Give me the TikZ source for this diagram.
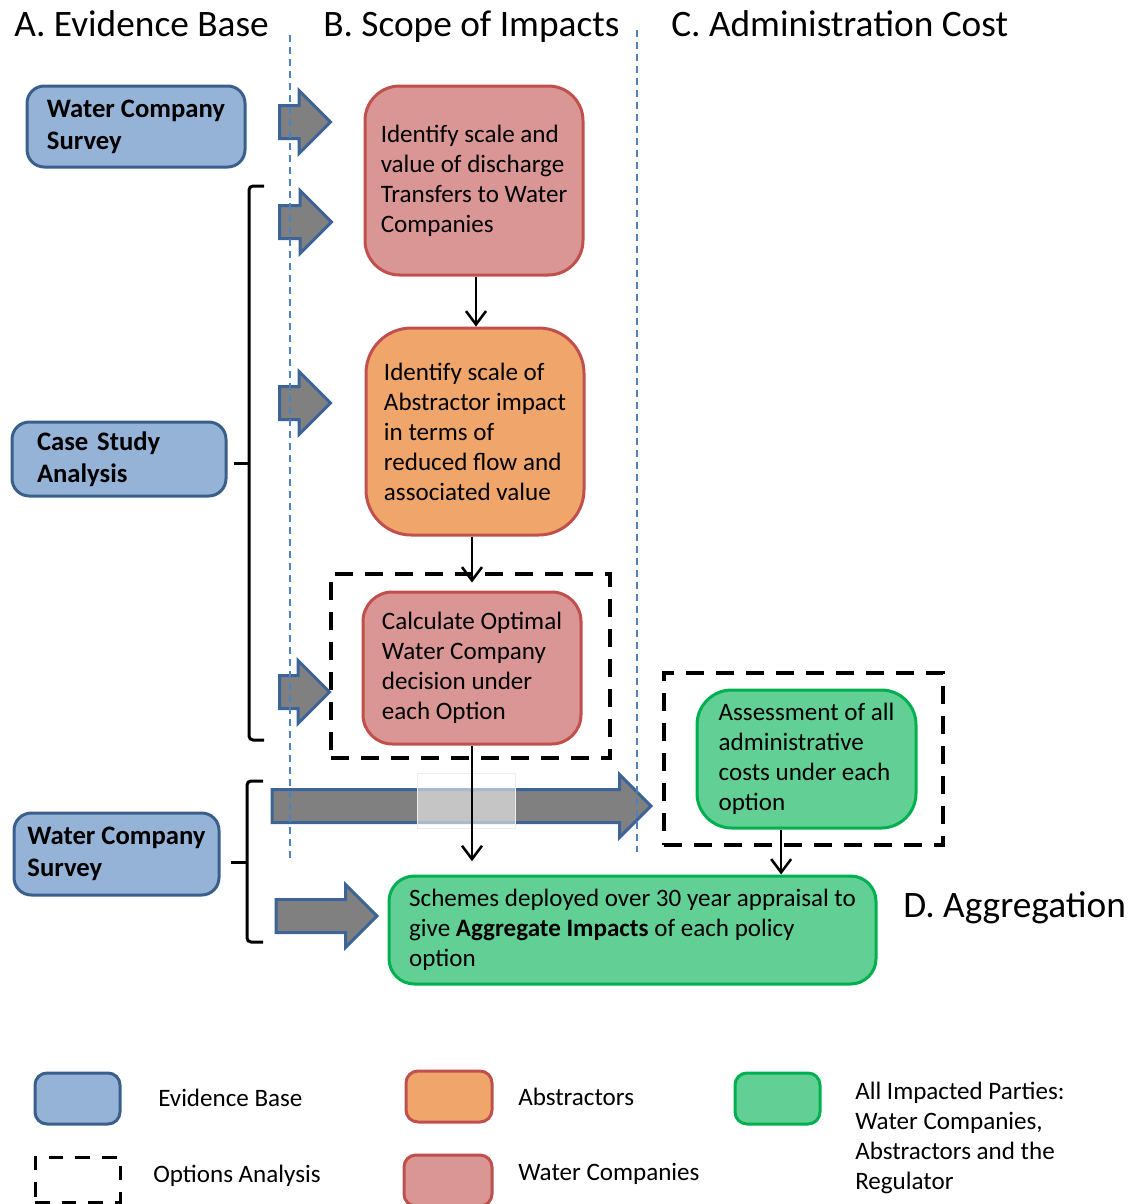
\documentclass[tikz,border=0pt]{standalone}
\usepackage{fontspec}
\setmainfont{Carlito}
\usepackage{tikz}
\usetikzlibrary{shapes.arrows, arrows.meta, positioning}

\definecolor{evfill}{HTML}{95B3D7}
\definecolor{evline}{HTML}{3A5F8B}
\definecolor{wcfill}{HTML}{D99694}
\definecolor{wcline}{HTML}{C0504D}
\definecolor{abfill}{HTML}{F0A66A}
\definecolor{allfill}{HTML}{62CF95}
\definecolor{allline}{HTML}{00B050}
\definecolor{arrline}{HTML}{3C6496}
\definecolor{sepline}{HTML}{4F81BD}

\begin{document}
\begin{tikzpicture}[x=0.75pt, y=-0.75pt,
	every node/.style={font=\fontsize{18.8}{22.5}\selectfont, inner sep=0pt},
	title/.style={anchor=base west, font=\fontsize{28}{34}\selectfont},
	box/.style={draw, line width=2.25pt, align=left},
	evbox/.style={box, draw=evline, fill=evfill, rounded corners=13pt, font=\fontsize{20}{24}\selectfont\bfseries},
	wcbox/.style={box, draw=wcline, fill=wcfill},
	abbox/.style={box, draw=wcline, fill=abfill},
	allbox/.style={box, draw=allline, fill=allfill},
	optbox/.style={draw, line width=3pt, dash pattern=on 13.5pt off 9pt},
	blockarr/.style={single arrow, draw=arrline, fill=gray, line width=2.25pt, inner xsep=0pt, inner ysep=11.25pt, single arrow head extend=11.25pt, anchor=tail, outer sep=0pt},
	flow/.style={line width=1.9pt, -{Straight Barb[length=10pt, width=15pt]}},
	sep/.style={sepline, line width=1.5pt, dash pattern=on 5pt off 4pt},
	brace/.style={line width=2.25pt, rounded corners=3pt},
	legtext/.style={anchor=west, align=left}
]
	\useasboundingbox (0,0) rectangle (1135,1204);
	\clip (0,0) rectangle (1135,1204);

	\node[title] (tA) at (14,36) {A. Evidence Base};
	\node[title] (tB) at (323,36) {B. Scope of Impacts};
	\node[title] (tC) at (671,36) {C. Administration Cost};
	\node[title] (tD) at (903,917) {D. Aggregation};

	% evidence base
	\node[evbox, minimum width=163.5pt, minimum height=60.75pt] (wcs1) at (136,126.5) {Water Company\\Survey};
	\node[evbox, text width=123pt, inner xsep=18.75pt, minimum height=55.5pt] (csa) at (119,459) {Case Study\\Analysis};
	\node[evbox, minimum width=153.75pt, minimum height=61.5pt] (wcs2) at (116.5,854) {Water Company\\Survey};

	\draw[brace] (264,186) -- (249,186) -- (249,740) -- (264,740);
	\draw[brace] (249,463) -- (234,463);
	\draw[brace] (263,781) -- (247,781) -- (247,942) -- (263,942);
	\draw[brace] (247,862) -- (231,862);

	% scope of impacts
	\node[optbox, minimum width=209.25pt, minimum height=138pt] (opt1) at (470.5,666) {};
	\node[wcbox, rounded corners=26pt, minimum width=163.5pt, minimum height=141.75pt] (wc1) at (474,180.5) {Identify scale and\\value of discharge\\Transfers to Water\\Companies};
	\node[abbox, rounded corners=34pt, minimum width=163.5pt, minimum height=155.25pt] (abs) at (475,431.5) {Identify scale of\\Abstractor impact\\in terms of\\reduced flow and\\associated value};
	\node[wcbox, rounded corners=22pt, minimum width=163.5pt, minimum height=114pt] (wc2) at (472,668) {Calculate Optimal\\Water Company\\decision under\\each Option};

	% administration cost
	\node[optbox, minimum width=209.25pt, minimum height=129pt] (opt2) at (803.5,759) {};
	\node[allbox, rounded corners=26pt, minimum width=164.25pt, minimum height=103.5pt] (adm) at (806.5,759) {Assessment of all\\administrative\\costs under each\\option};

	% aggregation
	\node[allbox, rounded corners=19pt, minimum width=365.25pt, minimum height=81pt] (agg) at (632.5,930) {Schemes deployed over 30 year appraisal to\\give \textbf{Aggregate Impacts} of each policy\\option};

	\node[blockarr, minimum height=38.25pt] (ar1) at (279.5,122) {};
	\node[blockarr, minimum height=39pt] (ar2) at (279.5,222) {};
	\node[blockarr, minimum height=38.25pt] (ar3) at (279.5,403) {};
	\node[blockarr, minimum height=37.5pt] (ar4) at (279.5,692) {};
	\node[blockarr, minimum height=284.25pt] (ar5) at (272,806) {};
	\node[blockarr, minimum height=75.75pt] (ar6) at (276,916) {};
	\draw[gray!15, fill=white, fill opacity=0.55] (417,773) rectangle (515,828);

	\draw[sep] (290,35) -- (290,858);
	\draw[sep] (637,30) -- (637,852);

	\draw[flow] ([xshift=1.5pt]wc1.south) -- ([xshift=1.5pt]wc1.south |- abs.north);
	\draw[flow, shorten >=6pt] (abs.south -| wc2.north) -- (wc2.north);
	\draw[flow, shorten >=10pt] (wc2.south) -- (wc2.south |- agg.north);
	\draw[flow] ([xshift=-19pt]adm.south) -- ([xshift=-19pt]adm.south |- agg.north);

	% legend
	\node[evbox, rounded corners=9pt, minimum width=63.75pt, minimum height=38.25pt] (lgev) at (77.5,1098.5) {};
	\node[legtext] (lgevt) at (158,1098) {Evidence Base};
	\node[optbox, line width=2.25pt, dash pattern=on 11pt off 9pt, minimum width=63.75pt, minimum height=33.75pt] (lgopt) at (77.5,1179.5) {};
	\node[legtext] (lgoptt) at (153,1176) {Options Analysis};
	\node[abbox, rounded corners=9pt, minimum width=64.5pt, minimum height=38.25pt] (lgab) at (449,1096.5) {};
	\node[legtext] (lgabt) at (518,1097) {Abstractors};
	\node[wcbox, rounded corners=9pt, minimum width=66pt, minimum height=38.25pt] (lgwc) at (448,1180.5) {};
	\node[legtext] (lgwct) at (518,1174) {Water Companies};
	\node[allbox, rounded corners=9pt, minimum width=63.75pt, minimum height=38.25pt] (lgall) at (777.5,1098.5) {};
	\node[legtext] (lgallt) at (855,1137.5) {All Impacted Parties:\\Water Companies,\\Abstractors and the\\Regulator};
\end{tikzpicture}
\end{document}
